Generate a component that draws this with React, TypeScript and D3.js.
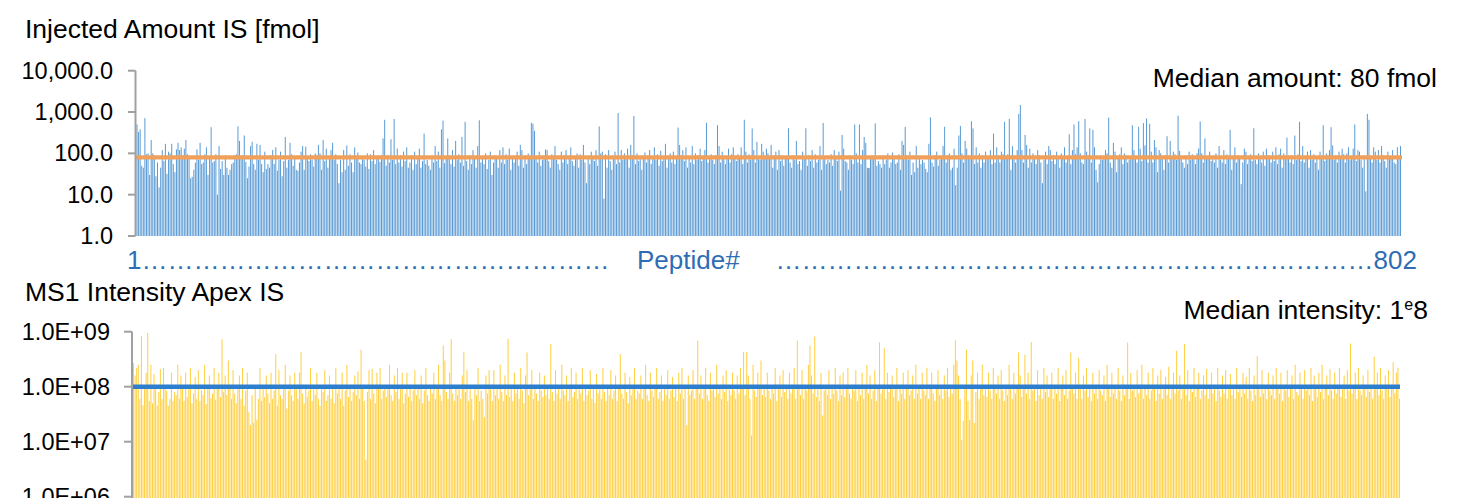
import React from 'react';
import * as d3 from 'd3';

// ---------- Data ----------
const amountTitle = 'Injected Amount IS [fmol]';
const intensityTitle = 'MS1 Intensity Apex IS';
const amountTicks = [1, 10, 100, 1000, 10000];
const intensityTicks = [1e6, 1e7, 1e8, 1e9];
const medianAmount = 80;
const medianIntensity = 1e8;
const firstPeptide = '1';
const lastPeptide = '802';
const peptideAxisLabel = 'Peptide#';
const amountMedianLabel = 'Median amount: 80 fmol';
const highlightedPeptides = [464];

// injected amount per peptide [fmol]
const injectedAmount = [
  500,330,380,50,45,710,95,100,30,210,100,90,28,60,15,45,120,65,170,32,
  110,100,170,55,35,125,180,120,140,90,130,210,95,80,25,27,40,60,125,70,
  180,55,60,95,140,30,80,430,60,65,95,10,150,42,65,30,90,45,30,40,
  55,60,90,95,450,200,75,90,270,62,25,48,150,190,55,40,170,70,160,55,
  35,110,42,55,45,90,120,55,140,38,70,110,28,65,250,45,70,180,95,50,
  75,40,38,60,110,150,40,145,85,65,95,70,48,100,90,160,100,40,210,65,
  130,45,85,120,180,70,95,55,19,70,35,120,40,155,50,95,60,35,140,75,
  105,60,55,80,70,48,100,42,95,65,120,55,75,88,62,90,230,650,50,90,
  60,220,70,680,55,130,60,90,48,110,65,140,45,60,90,40,110,55,75,130,
  45,65,300,55,70,50,40,80,60,150,65,110,45,380,620,58,75,230,90,55,
  120,48,200,70,95,60,250,50,580,65,40,90,55,120,75,45,150,630,60,80,
  55,100,42,70,110,30,60,90,85,45,120,60,140,55,95,70,130,40,75,60,
  85,110,50,160,120,45,90,55,100,85,550,520,350,80,60,110,50,70,90,125,
  120,65,45,95,80,150,70,55,40,110,60,90,120,55,75,140,65,50,85,100,
  45,95,70,160,60,19,80,55,110,75,65,120,50,450,100,110,8,95,45,120,
  65,40,80,110,55,950,60,120,70,100,85,130,45,160,90,800,55,100,65,80,
  40,75,105,60,90,120,55,85,140,70,95,50,115,65,85,170,45,80,100,60,
  110,55,75,420,160,90,120,65,140,45,80,60,150,55,100,70,90,130,65,85,
  120,550,60,80,95,70,55,90,480,150,60,110,75,55,85,130,60,95,140,75,
  65,95,80,140,55,650,110,60,95,70,400,120,60,190,85,70,170,110,75,130,
  100,85,160,45,90,110,40,120,65,90,50,80,75,405,60,45,90,70,200,55,
  65,40,110,80,405,50,90,65,120,45,95,60,70,150,40,545,85,55,70,60,
  95,50,120,75,65,110,12.5,280,130,65,60,40,90,70,55,500,100,60,500,55,
  120,250,180,45,44,80,90,75,530,50,65,55,45,90,55,70,100,45,60,105,
  75,55,60,95,40,200,160,440,90,70,110,30,60,35,150,45,85,55,70,60,
  42,35,170,745,60,48,90,110,50,70,80,150,440,60,90,100,40,45,130,17,
  45,270,460,100,60,200,130,90,80,600,400,55,140,60,100,45,90,60,110,85,
  75,120,55,300,60,140,90,60,110,95,580,75,95,680,40,150,90,60,120,900,
  1480,120,60,280,160,45,130,60,100,75,55,120,90,60,19,70,110,55,150,120,
  65,90,55,110,80,45,100,75,140,60,85,290,55,120,500,95,140,600,100,60,
  55,680,110,90,400,60,370,140,40,20,55,90,70,85,120,100,730,60,45,180,
  110,35,75,95,140,55,100,90,60,70,80,480,120,85,60,440,130,65,540,155,
  700,60,520,110,60,210,140,35,120,100,80,40,90,260,60,200,75,110,95,70,
  815,115,80,60,45,90,55,110,70,95,75,55,100,130,590,100,60,230,85,75,
  110,65,80,60,100,45,150,70,60,120,55,95,80,370,40,75,140,60,90,80,
  18,60,130,110,55,80,95,65,405,70,55,100,75,60,110,50,130,90,85,60,
  110,65,140,55,95,130,45,100,80,240,75,60,90,55,270,70,95,580,65,150,
  60,85,110,45,120,70,95,60,75,40,110,80,480,65,100,90,120,430,155,70,
  90,60,110,75,130,95,60,100,140,70,85,130,500,65,120,110,70,45,90,12,
  900,650,80,60,140,110,70,120,60,150,90,65,45,110,85,75,120,60,55,140,
  80,150,
];

// MS1 apex intensity per peptide, in millions
const ms1IntensityMillions = [
  270,160,220,250,60,830,46,100,180,950,55,250,50,170,90,45,80,210,60,220,
  100,85,45,60,180,55,80,70,250,60,160,95,55,180,65,90,220,50,75,150,
  60,200,55,85,70,250,48,90,160,62,75,220,58,95,180,65,730,80,160,70,
  300,95,60,200,75,50,90,160,60,220,45,85,180,35,20,70,22,100,25,60,
  220,55,90,65,160,75,50,180,60,85,390,45,200,70,60,95,250,40,85,160,
  70,55,180,90,60,180,430,75,50,100,65,85,220,55,90,70,180,60,45,95,
  80,200,55,70,160,60,95,50,220,75,90,60,180,45,85,250,65,100,55,80,
  160,70,190,60,470,95,55,4.7,80,200,60,210,75,50,180,90,220,60,85,100,
  65,95,250,70,55,160,80,220,60,90,180,50,75,180,65,100,55,85,200,70,
  95,60,160,50,85,220,70,55,100,75,180,60,90,250,70,55,560,300,80,60,
  180,730,75,55,100,70,90,60,160,430,80,200,55,90,60,25,100,70,220,55,
  85,60,28,160,75,200,90,55,200,70,95,60,250,80,55,160,70,740,65,90,
  55,180,75,95,60,220,85,50,160,420,70,90,200,60,100,75,55,180,85,65,
  160,70,95,60,600,80,55,200,75,100,60,250,85,70,160,55,95,220,65,80,
  180,60,90,75,220,55,100,70,85,200,60,95,50,170,75,90,60,220,80,55,
  100,70,200,60,85,160,55,95,390,75,60,180,80,50,150,70,90,220,60,85,
  75,160,60,95,250,70,55,180,85,65,100,220,60,80,160,55,90,70,200,60,
  85,150,65,95,55,180,75,220,60,90,20,160,70,85,200,60,95,680,75,160,
  60,90,220,70,55,180,85,100,65,250,75,95,60,160,80,200,55,90,70,180,
  85,60,160,75,220,95,430,70,430,160,60,13,250,85,65,180,90,300,70,100,
  65,180,85,60,100,75,220,55,90,160,65,200,80,95,60,180,75,90,220,60,
  690,95,70,200,60,100,85,250,560,160,75,820,65,90,55,180,30,85,100,70,
  200,60,95,75,220,85,55,160,70,180,65,90,220,75,60,100,85,200,55,95,
  70,180,60,95,250,75,160,60,85,200,55,100,640,75,90,500,60,180,80,95,
  160,65,90,220,55,100,75,180,60,95,200,70,85,160,60,250,75,95,60,180,
  85,70,220,60,100,180,75,55,95,200,70,90,60,160,85,220,65,100,75,250,
  700,300,160,60,10.7,24,90,470,55,25,160,300,22,80,180,60,95,250,70,100,
  65,180,85,60,220,95,75,160,60,200,85,55,100,70,250,90,60,180,75,95,
  420,160,65,90,380,75,180,60,650,85,100,55,200,70,95,60,220,80,160,65,
  90,180,60,100,75,220,55,95,160,70,200,60,85,420,100,75,180,60,330,90,
  60,160,85,220,65,95,55,180,75,100,60,200,85,70,160,55,250,90,65,180,
  75,100,60,220,85,55,160,70,95,640,60,180,85,100,65,200,75,90,250,60,
  100,70,180,60,85,220,95,55,160,75,200,60,90,150,70,230,60,95,180,75,
  450,85,160,60,95,600,70,200,55,100,80,220,65,95,180,60,85,160,70,210,
  60,95,180,75,100,55,220,85,65,160,75,200,60,90,170,70,100,60,220,80,
  95,65,180,75,150,60,220,85,55,160,70,360,90,65,200,75,100,60,180,85,
  70,160,60,220,95,75,180,55,100,85,200,65,95,160,60,250,80,70,180,95,
  60,200,85,100,70,220,55,160,90,65,180,80,250,60,95,160,70,210,85,60,
  180,75,100,220,65,90,160,60,200,85,610,75,95,180,60,220,85,70,160,95,
  65,200,80,100,60,350,90,180,70,220,85,60,160,95,200,65,100,280,75,180,
  220,60,
];

// ---------- Styling ----------
const FONT = '"Liberation Sans", Arial, Helvetica, sans-serif';
const W = 1468;
const H = 498;

const fmtAmount = d3.format(',.1f');
const fmtSci = (v: number) => {
  const e = Math.round(Math.log10(v));
  const m = v / Math.pow(10, e);
  return `${m.toFixed(1)}E+${String(e).padStart(2, '0')}`;
};

export default function App() {
  // top panel scales
  const xTop = d3
    .scaleBand<number>()
    .domain(d3.range(injectedAmount.length))
    .range([136.5, 1401])
    .paddingInner(0.36);
  const yTop = d3.scaleLog().domain([1, 10000]).range([236, 70.7]);

  // bottom panel scales
  const intensity = ms1IntensityMillions.map((v) => v * 1e6);
  const xBot = d3
    .scaleBand<number>()
    .domain(d3.range(intensity.length))
    .range([133, 1400])
    .paddingInner(0.36);
  const yBot = d3.scaleLog().domain([1e6, 1e9]).range([496.7, 331.7]);

  const ellW = 26; // width of one "…" at 26px
  const leftDots = '…'.repeat(Math.round((620 - 143) / ellW));
  const rightDots = '…'.repeat(Math.round((1372 - 772) / ellW));

  const topAxisX = 135.5;
  const botAxisX = 132;

  return (
    <svg
      width={W}
      height={H}
      style={{ position: 'absolute', left: 0, top: 0, background: '#fff' }}
      fontFamily={FONT}
    >
      {/* ---------- Top panel ---------- */}
      <text x={25} y={38} fontSize={26.5} fill="#000">
        {amountTitle}
      </text>
      <text x={1437} y={87} fontSize={26.5} fill="#000" textAnchor="end">
        {amountMedianLabel}
      </text>

      <g>
        {injectedAmount.map((v, i) => (
          <rect
            key={i}
            x={xTop(i)!}
            y={yTop(v)}
            width={xTop.bandwidth()}
            height={yTop(1) - yTop(v)}
            fill={highlightedPeptides.includes(i) ? '#2F5597' : '#5B9BD5'}
          />
        ))}
      </g>
      <line
        x1={topAxisX}
        x2={1402}
        y1={yTop(medianAmount)}
        y2={yTop(medianAmount)}
        stroke="#F0A05A"
        strokeWidth={4.4}
      />
      <g>
        <line x1={topAxisX} x2={topAxisX} y1={yTop(10000)} y2={yTop(1)} stroke="#A0A0A0" strokeWidth={2} />
        {amountTicks.map((t) => (
          <g key={t}>
            <line x1={128} x2={topAxisX} y1={yTop(t)} y2={yTop(t)} stroke="#A0A0A0" strokeWidth={2} />
            <text
              x={113}
              y={yTop(t)}
              fontSize={23.5}
              textAnchor="end"
              dominantBaseline="central"
              fill="#000"
            >
              {fmtAmount(t)}
            </text>
          </g>
        ))}
      </g>

      {/* peptide axis row */}
      <g fill="#2E6DB4" fontSize={26}>
        <text x={127} y={269}>
          {firstPeptide + leftDots}
        </text>
        <text x={637} y={269}>
          {peptideAxisLabel}
        </text>
        <text x={1417} y={269} textAnchor="end">
          {rightDots + lastPeptide}
        </text>
      </g>

      {/* ---------- Bottom panel ---------- */}
      <text x={25} y={301} fontSize={26.5} fill="#000">
        {intensityTitle}
      </text>
      <text x={1428} y={319} fontSize={26.5} fill="#000" textAnchor="end">
        <tspan>Median intensity: 1</tspan>
        <tspan fontSize={16} dy={-9}>e</tspan>
        <tspan dy={9}>8</tspan>
      </text>

      <g>
        {intensity.map((v, i) => (
          <rect
            key={i}
            x={xBot(i)!}
            y={yBot(v)}
            width={xBot.bandwidth()}
            height={yBot(1e6) - yBot(v) + 5}
            fill="#FFCF40"
          />
        ))}
      </g>
      <line
        x1={botAxisX}
        x2={1400}
        y1={yBot(medianIntensity)}
        y2={yBot(medianIntensity)}
        stroke="#2E7ECF"
        strokeWidth={4.4}
      />
      <g>
        <line x1={botAxisX} x2={botAxisX} y1={yBot(1e9)} y2={H} stroke="#A0A0A0" strokeWidth={2} />
        {intensityTicks.map((t) => (
          <g key={t}>
            <line x1={124} x2={botAxisX} y1={yBot(t)} y2={yBot(t)} stroke="#A0A0A0" strokeWidth={2} />
            <text
              x={110}
              y={yBot(t)}
              fontSize={23.5}
              textAnchor="end"
              dominantBaseline="central"
              fill="#000"
            >
              {fmtSci(t)}
            </text>
          </g>
        ))}
      </g>
    </svg>
  );
}
